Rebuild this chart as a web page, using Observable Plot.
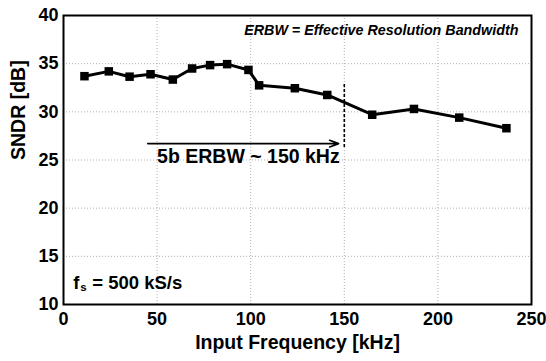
<!DOCTYPE html>
<html>
<head>
<meta charset="utf-8">
<script src="https://cdn.jsdelivr.net/npm/d3@7"></script>
<script src="https://cdn.jsdelivr.net/npm/@observablehq/plot@0.6"></script>
<style>
  html, body { margin: 0; padding: 0; background: #fff; }
  #chart svg { display: block; }
</style>
</head>
<body>
<div id="chart"></div>
<script>
// Measured data
const freqKHz = [11.2, 24.2, 35.3, 46.5, 58.4, 68.7, 78.3, 87.4, 98.8, 104.5, 123.6, 140.9, 164.9, 187.2, 211.4, 236.6];
const sndrDB  = [33.7, 34.2, 33.65, 33.9, 33.35, 34.5, 34.85, 34.95, 34.35, 32.75, 32.45, 31.75, 29.7, 30.3, 29.4, 28.3];

const xTicks = [0, 50, 100, 150, 200, 250];
const yTicks = [10, 15, 20, 25, 30, 35, 40];

// Annotations (data coordinates)
const erbwMarker = [{x: 150, y1: 26.3, y2: 33.0}];
const erbwArrow = [{x1: 45, x2: 147, y: 26.7}];
const erbwLabel = [{x: 50, y: 25.3, text: "5b ERBW ~ 150 kHz"}];
const legendNote = [{x: 243, y: 38.45, text: "ERBW = Effective Resolution Bandwidth"}];
const fsNote = [{x: 5.2, y: 12.2}];

const data = freqKHz.map((f, i) => ({f, s: sndrDB[i]}));

const font = "'Liberation Sans', Arial, Helvetica, sans-serif";

const chart = Plot.plot({
  width: 546,
  height: 361,
  marginLeft: 63,
  marginRight: 15,
  marginTop: 15,
  marginBottom: 57,
  style: {fontFamily: font, fontWeight: "bold", background: "#fff", color: "#000"},
  x: {domain: [0, 250]},
  y: {domain: [10, 40]},
  marks: [
    Plot.gridX(xTicks, {stroke: "#b0b0b0", strokeOpacity: 1, strokeDasharray: "1,2", strokeWidth: 1}),
    Plot.gridY(yTicks, {stroke: "#b0b0b0", strokeOpacity: 1, strokeDasharray: "1,2", strokeWidth: 1}),
    Plot.axisX({ticks: xTicks, tickSize: 0, tickPadding: 8, fontSize: 18, fontWeight: "bold", label: null}),
    Plot.axisY({ticks: yTicks, tickSize: 0, tickPadding: 5, fontSize: 18, fontWeight: "bold", label: null}),
    Plot.text(["Input Frequency [kHz]"], {frameAnchor: "bottom", dy: 44, fontSize: 19.5, fontWeight: "bold", fill: "#000"}),
    Plot.text(["SNDR [dB]"], {frameAnchor: "left", dx: -44.5, rotate: -90, fontSize: 19.5, fontWeight: "bold", fill: "#000"}),
    Plot.ruleX(erbwMarker, {x: "x", y1: "y1", y2: "y2", stroke: "#000", strokeWidth: 1.6, strokeDasharray: "3,2"}),
    Plot.arrow(erbwArrow, {x1: "x1", x2: "x2", y1: "y", y2: "y", stroke: "#000", strokeWidth: 1.6, headLength: 9, headAngle: 40}),
    Plot.text(erbwLabel, {x: "x", y: "y", text: "text", textAnchor: "start", fontSize: 19.5, fontWeight: "bold", fill: "#000"}),
    Plot.text(legendNote, {x: "x", y: "y", text: "text", textAnchor: "end", fontSize: 14.3, fontWeight: "bold", fontStyle: "italic", fill: "#000"}),
    Plot.text(fsNote, {x: "x", y: "y", text: () => "f", textAnchor: "start", fontSize: 18.5, fontWeight: "bold", fill: "#000"}),
    Plot.text(fsNote, {x: "x", y: "y", text: () => "s", textAnchor: "start", dx: 7, dy: 4.5, fontSize: 11.5, fontWeight: "bold", fill: "#000"}),
    Plot.text(fsNote, {x: "x", y: "y", text: () => "= 500 kS/s", textAnchor: "start", dx: 19, fontSize: 18.5, fontWeight: "bold", fill: "#000"}),
    Plot.line(data, {x: "f", y: "s", stroke: "#000", strokeWidth: 3}),
    Plot.dot(data, {x: "f", y: "s", symbol: "square", r: 4.8, fill: "#000", stroke: "none"}),
    Plot.frame({stroke: "#000", strokeWidth: 2})
  ]
});

document.getElementById("chart").appendChild(chart);
</script>
</body>
</html>
